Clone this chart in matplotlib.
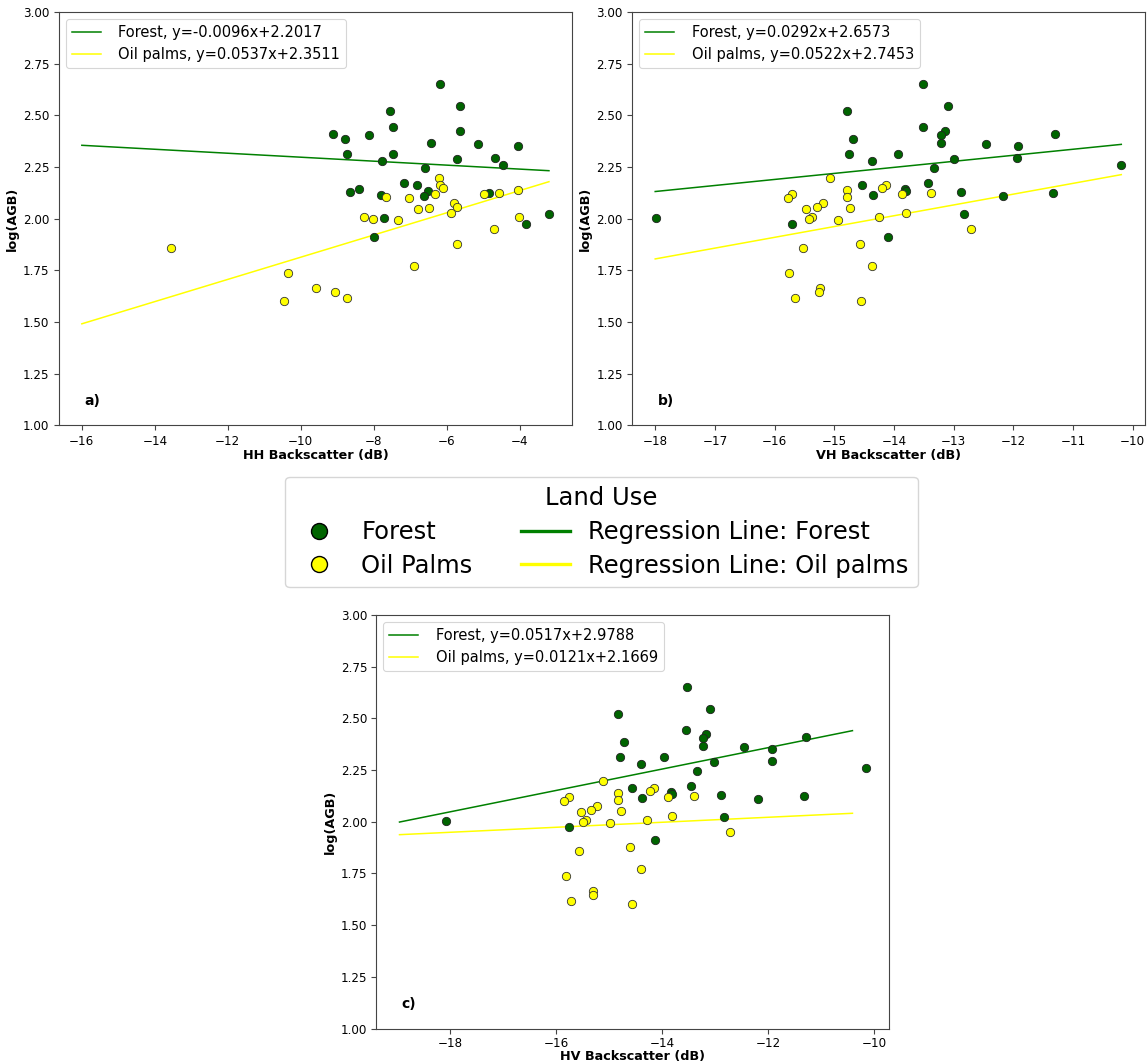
import matplotlib
matplotlib.use('Agg')
import matplotlib.pyplot as plt
from matplotlib.lines import Line2D
import numpy as np

# ---------------- data ----------------
forest_logagb = [2.654, 2.547, 2.523, 2.446, 2.426, 2.410, 2.403, 2.386, 2.366, 2.362,
                 2.352, 2.315, 2.315, 2.294, 2.290, 2.281, 2.261, 2.245, 2.171, 2.163,
                 2.143, 2.135, 2.129, 2.124, 2.117, 2.112, 2.022, 2.006, 1.977, 1.914]
forest_hh = [-6.19, -5.64, -7.55, -7.46, -5.64, -9.12, -8.12, -8.78, -6.42, -5.15,
             -4.04, -8.74, -7.46, -4.68, -5.71, -7.77, -4.45, -6.59, -7.17, -6.82,
             -8.40, -6.52, -8.66, -4.85, -7.80, -6.62, -3.20, -7.71, -3.83, -7.99]
forest_vh = [-13.51, -13.09, -14.78, -13.52, -13.15, -11.30, -13.21, -14.69, -13.21, -12.45,
             -11.92, -14.76, -13.93, -11.93, -13.00, -14.37, -10.19, -13.33, -13.43, -14.54,
             -13.81, -13.79, -12.88, -11.34, -14.35, -12.17, -12.82, -17.98, -15.71, -14.10]
forest_hv = [-13.53, -13.10, -14.83, -13.55, -13.18, -11.28, -13.24, -14.73, -13.24, -12.46,
             -11.92, -14.80, -13.96, -11.92, -13.02, -14.41, -10.16, -13.34, -13.45, -14.57,
             -13.84, -13.81, -12.90, -11.33, -14.38, -12.19, -12.84, -18.09, -15.77, -14.14]

oil_logagb = [2.197, 2.161, 2.151, 2.139, 2.124, 2.121, 2.121, 2.106, 2.101, 2.076,
              2.056, 2.053, 2.048, 2.027, 2.008, 2.008, 1.999, 1.995, 1.952, 1.878,
              1.859, 1.772, 1.739, 1.666, 1.647, 1.618, 1.602]
oil_hh = [-6.20, -6.19, -6.10, -4.04, -4.56, -6.31, -4.99, -7.66, -7.04, -5.79,
          -5.72, -6.50, -6.78, -5.89, -4.03, -8.27, -8.03, -7.33, -4.71, -5.73,
          -13.57, -6.89, -10.34, -9.57, -9.07, -8.74, -10.45]
oil_vh = [-15.07, -14.13, -14.20, -14.78, -13.38, -15.70, -13.87, -14.79, -15.77, -15.18,
          -15.29, -14.74, -15.48, -13.79, -15.38, -14.25, -15.42, -14.93, -12.71, -14.57,
          -15.52, -14.37, -15.76, -15.24, -15.25, -15.66, -14.55]
oil_hv = [-15.12, -14.16, -14.23, -14.83, -13.40, -15.76, -13.90, -14.84, -15.85, -15.23,
          -15.34, -14.78, -15.54, -13.82, -15.44, -14.28, -15.49, -14.98, -12.73, -14.61,
          -15.58, -14.41, -15.82, -15.30, -15.30, -15.72, -14.58]

# regression lines (slope, intercept) and the x-extent over which they are drawn
forest_fit = {'HH': (-0.0096, 2.2017), 'VH': (0.0292, 2.6573), 'HV': (0.0517, 2.9788)}
oil_fit = {'HH': (0.0537, 2.3511), 'VH': (0.0522, 2.7453), 'HV': (0.0121, 2.1669)}
line_range = {'HH': (-16.0, -3.20), 'VH': (-18.0, -10.19), 'HV': (-18.96, -10.41)}

panel_letters = ['a)', 'b)', 'c)']
pol_names = ['HH', 'VH', 'HV']
x_ticks = {'HH': [-16, -14, -12, -10, -8, -6, -4],
           'VH': [-18, -17, -16, -15, -14, -13, -12, -11, -10],
           'HV': [-18, -16, -14, -12, -10]}
y_ticks = [1.00, 1.25, 1.50, 1.75, 2.00, 2.25, 2.50, 2.75, 3.00]

forest_x = {'HH': forest_hh, 'VH': forest_vh, 'HV': forest_hv}
oil_x = {'HH': oil_hh, 'VH': oil_vh, 'HV': oil_hv}

# ---------------- figure ----------------
fig = plt.figure(figsize=(11.48, 10.63), dpi=100)
W, H = 1148, 1063

def px_axes(left, right, top, bottom):
    return [left / W, 1 - bottom / H, (right - left) / W, (bottom - top) / H]

positions = {
    'HH': px_axes(58.5, 572.3, 12.0, 425.5),
    'VH': px_axes(631.9, 1144.6, 12.0, 425.5),
    'HV': px_axes(376.2, 889.0, 615.0, 1028.5),
}
xlabel_pad = {'HH': 1, 'VH': 1, 'HV': 0}

FOREST_PT = 'darkgreen'
OIL_PT = 'yellow'
SPINE = '#444444'

for pol, letter in zip(pol_names, panel_letters):
    ax = fig.add_axes(positions[pol])
    xr = np.array(line_range[pol])
    mf, bf = forest_fit[pol]
    mo, bo = oil_fit[pol]
    ax.plot(xr, mf * xr + bf, color='green', lw=1.1, zorder=1,
            label=f'Forest, y={mf:.4f}x+{bf:.4f}')
    ax.plot(xr, mo * xr + bo, color='yellow', lw=1.1, zorder=1,
            label=f'Oil palms, y={mo:.4f}x+{bo:.4f}')
    ax.scatter(forest_x[pol], forest_logagb, s=36, c=FOREST_PT, edgecolors='#222222',
               linewidths=0.6, zorder=3)
    ax.scatter(oil_x[pol], oil_logagb, s=36, c=OIL_PT, edgecolors='#333333',
               linewidths=0.6, zorder=3)
    ax.set_ylim(1.0, 3.0)
    ax.set_yticks(y_ticks)
    ax.set_yticklabels([f'{v:.2f}' for v in y_ticks])
    ax.set_xticks(x_ticks[pol])
    ax.set_xticklabels([f'\u2212{abs(v)}' for v in x_ticks[pol]])
    ax.tick_params(labelsize=8.6, color=SPINE, length=3.5, width=0.8, pad=3)
    if pol == 'HV':
        ax.tick_params(axis='x', pad=2.5)
    for s in ax.spines.values():
        s.set_color(SPINE)
        s.set_linewidth(0.8)
    ax.set_xlabel(f'{pol} Backscatter (dB)', fontsize=9.2, fontweight='bold',
                  labelpad=xlabel_pad[pol])
    ax.set_ylabel('log(AGB)', fontsize=9.2, fontweight='bold', labelpad=3)
    ax.text(0.05, 0.05, letter, transform=ax.transAxes, fontsize=10, fontweight='bold')
    leg = ax.legend(loc='upper left', fontsize=10.5, handlelength=2.0, handletextpad=1.2,
                    borderaxespad=0.5)
    leg.get_frame().set_linewidth(0.8)

handles = [
    Line2D([], [], marker='o', ls='', markerfacecolor=FOREST_PT, markeredgecolor='black',
           markersize=11.5, markeredgewidth=1.0),
    Line2D([], [], marker='o', ls='', markerfacecolor=OIL_PT, markeredgecolor='black',
           markersize=11.5, markeredgewidth=1.0),
    Line2D([], [], color='green', lw=2.4),
    Line2D([], [], color='yellow', lw=2.4),
]
labels = ['Forest', 'Oil Palms', 'Regression Line: Forest', 'Regression Line: Oil palms']
fig.legend(handles, labels, title='Land Use', loc='center', bbox_to_anchor=(0.524, 0.4995),
           ncol=2, fontsize=17.5, title_fontsize=17.5, handletextpad=0.75, columnspacing=2.0,
           handlelength=2.0, frameon=True, borderpad=0.4, labelspacing=0.4)

fig.savefig('out.png', dpi=100)
